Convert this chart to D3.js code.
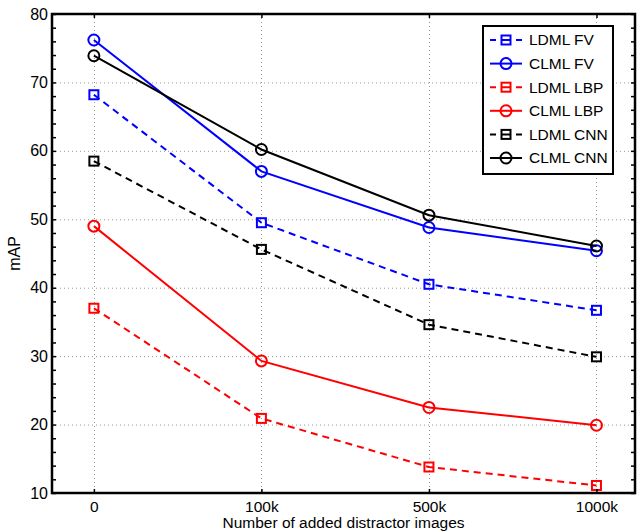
<!DOCTYPE html>
<html>
<head>
<meta charset="utf-8">
<script src="https://cdn.jsdelivr.net/npm/d3@7"></script>
<style>
  body { margin: 0; background: #fff; }
  svg { display: block; font-family: "Liberation Sans", Arial, sans-serif; }
</style>
</head>
<body>
<div id="chart"></div>
<script>
// Data
const categories = ['0', '100k', '500k', '1000k'];
const ldmlFV  = [68.2, 49.5, 40.5, 36.7];
const clmlFV  = [76.2, 57.0, 48.8, 45.4];
const ldmlLBP = [37.0, 20.9, 13.8, 11.1];
const clmlLBP = [49.0, 29.3, 22.5, 19.9];
const ldmlCNN = [58.5, 45.6, 34.6, 29.9];
const clmlCNN = [73.9, 60.2, 50.6, 46.1];
const yTicks = [10, 20, 30, 40, 50, 60, 70, 80];

const series = [
    {name: 'LDML FV',  values: ldmlFV,  color: '#0000ff', dashed: true,  marker: 'square'},
    {name: 'CLML FV',  values: clmlFV,  color: '#0000ff', dashed: false, marker: 'circle'},
    {name: 'LDML LBP', values: ldmlLBP, color: '#ff0000', dashed: true,  marker: 'square'},
    {name: 'CLML LBP', values: clmlLBP, color: '#ff0000', dashed: false, marker: 'circle'},
    {name: 'LDML CNN', values: ldmlCNN, color: '#000000', dashed: true,  marker: 'square'},
    {name: 'CLML CNN', values: clmlCNN, color: '#000000', dashed: false, marker: 'circle'}
];

const width = 637, height = 531;
const margin = {top: 14, right: 2, bottom: 38, left: 52};
const x0 = margin.left, x1 = width - margin.right;
const y0 = height - margin.bottom, y1 = margin.top;

const svg = d3.select('#chart').append('svg')
    .attr('width', width)
    .attr('height', height);

const x = d3.scaleLinear().domain([-0.25, 3.23]).range([x0, x1]);
const y = d3.scaleLinear().domain([10, 80]).range([y0, y1]);
const catIdx = categories.map((c, i) => i);

// Grid lines (dotted)
const grid = svg.append('g').attr('stroke', '#999').attr('stroke-width', 1)
    .attr('stroke-dasharray', '1,3');
grid.selectAll('.hgrid').data(yTicks.slice(1, -1)).enter().append('line')
    .attr('x1', x0).attr('x2', x1)
    .attr('y1', d => y(d) + 0.5).attr('y2', d => y(d) + 0.5);
grid.selectAll('.vgrid').data(catIdx).enter().append('line')
    .attr('x1', d => Math.round(x(d)) + 0.5).attr('x2', d => Math.round(x(d)) + 0.5)
    .attr('y1', y1).attr('y2', y0);

// Lines and markers
const line = d3.line().x((d, i) => x(i)).y(d => y(d));

function drawMarker(g, type, cx, cy, color) {
    if (type === 'square') {
        g.append('rect')
            .attr('x', cx - 4.5).attr('y', cy - 4.5)
            .attr('width', 9).attr('height', 9)
            .attr('fill', 'none').attr('stroke', color).attr('stroke-width', 2);
    } else {
        g.append('circle')
            .attr('cx', cx).attr('cy', cy).attr('r', 5.5)
            .attr('fill', 'none').attr('stroke', color).attr('stroke-width', 2);
    }
}

series.forEach(s => {
    const g = svg.append('g');
    g.append('path')
        .attr('d', line(s.values))
        .attr('fill', 'none')
        .attr('stroke', s.color)
        .attr('stroke-width', 2)
        .attr('stroke-dasharray', s.dashed ? '7,5' : null);
    s.values.forEach((v, i) => drawMarker(g, s.marker, x(i), y(v), s.color));
});

// Axes
const minorTicks = d3.range(10, 81, 2);

svg.append('g')
    .attr('transform', `translate(${x0},0)`)
    .call(d3.axisLeft(y).tickValues(minorTicks).tickSize(-4).tickSizeOuter(0)
        .tickFormat(d => yTicks.includes(d) ? d : ''))
    .call(g => g.select('.domain').remove())
    .call(g => g.selectAll('line').attr('stroke', '#000').attr('stroke-width', 1.5))
    .call(g => g.selectAll('text').attr('font-size', '16px').attr('fill', '#000')
        .attr('font-family', '"Liberation Sans", Arial, sans-serif').attr('dx', '-1'));

svg.append('g')
    .attr('transform', `translate(${x1},0)`)
    .call(d3.axisRight(y).tickValues(minorTicks).tickSize(-4).tickSizeOuter(0).tickFormat(''))
    .call(g => g.select('.domain').remove())
    .call(g => g.selectAll('line').attr('stroke', '#000').attr('stroke-width', 1.5));

svg.append('g')
    .attr('transform', `translate(0,${y0})`)
    .call(d3.axisBottom(x).tickValues(catIdx).tickSize(-4).tickSizeOuter(0)
        .tickPadding(8).tickFormat(i => categories[i]))
    .call(g => g.select('.domain').remove())
    .call(g => g.selectAll('line').attr('stroke', '#000').attr('stroke-width', 1.5))
    .call(g => g.selectAll('text').attr('font-size', '15.5px').attr('fill', '#000')
        .attr('font-family', '"Liberation Sans", Arial, sans-serif'));

svg.append('g')
    .attr('transform', `translate(0,${y1})`)
    .call(d3.axisTop(x).tickValues(catIdx).tickSize(-4).tickSizeOuter(0).tickFormat(''))
    .call(g => g.select('.domain').remove())
    .call(g => g.selectAll('line').attr('stroke', '#000').attr('stroke-width', 1.5));

// Box
svg.append('rect')
    .attr('x', x0).attr('y', y1)
    .attr('width', x1 - x0).attr('height', y0 - y1)
    .attr('fill', 'none').attr('stroke', '#000').attr('stroke-width', 2.5);

// Axis titles
svg.append('text')
    .attr('x', (x0 + x1) / 2).attr('y', 528)
    .attr('text-anchor', 'middle')
    .attr('font-size', '15.5px')
    .text('Number of added distractor images');

svg.append('text')
    .attr('transform', `translate(20,${(y0 + y1) / 2}) rotate(-90)`)
    .attr('text-anchor', 'middle')
    .attr('font-size', '16px')
    .text('mAP');

// Legend
const legend = svg.append('g').attr('transform', 'translate(483,26)');
legend.append('rect')
    .attr('width', 130).attr('height', 148)
    .attr('fill', '#fff').attr('stroke', '#000').attr('stroke-width', 2);

series.forEach((s, i) => {
    const ly = 14 + i * 23.6;
    const g = legend.append('g');
    g.append('line')
        .attr('x1', 7).attr('x2', 39)
        .attr('y1', ly).attr('y2', ly)
        .attr('stroke', s.color).attr('stroke-width', 2)
        .attr('stroke-dasharray', s.dashed ? '6,5.5,9,5.5,6' : null);
    drawMarker(g, s.marker, 23, ly, s.color);
    g.append('text')
        .attr('x', 46).attr('y', ly)
        .attr('dy', '0.35em')
        .attr('font-size', '15.5px')
        .text(s.name);
});
</script>
</body>
</html>
